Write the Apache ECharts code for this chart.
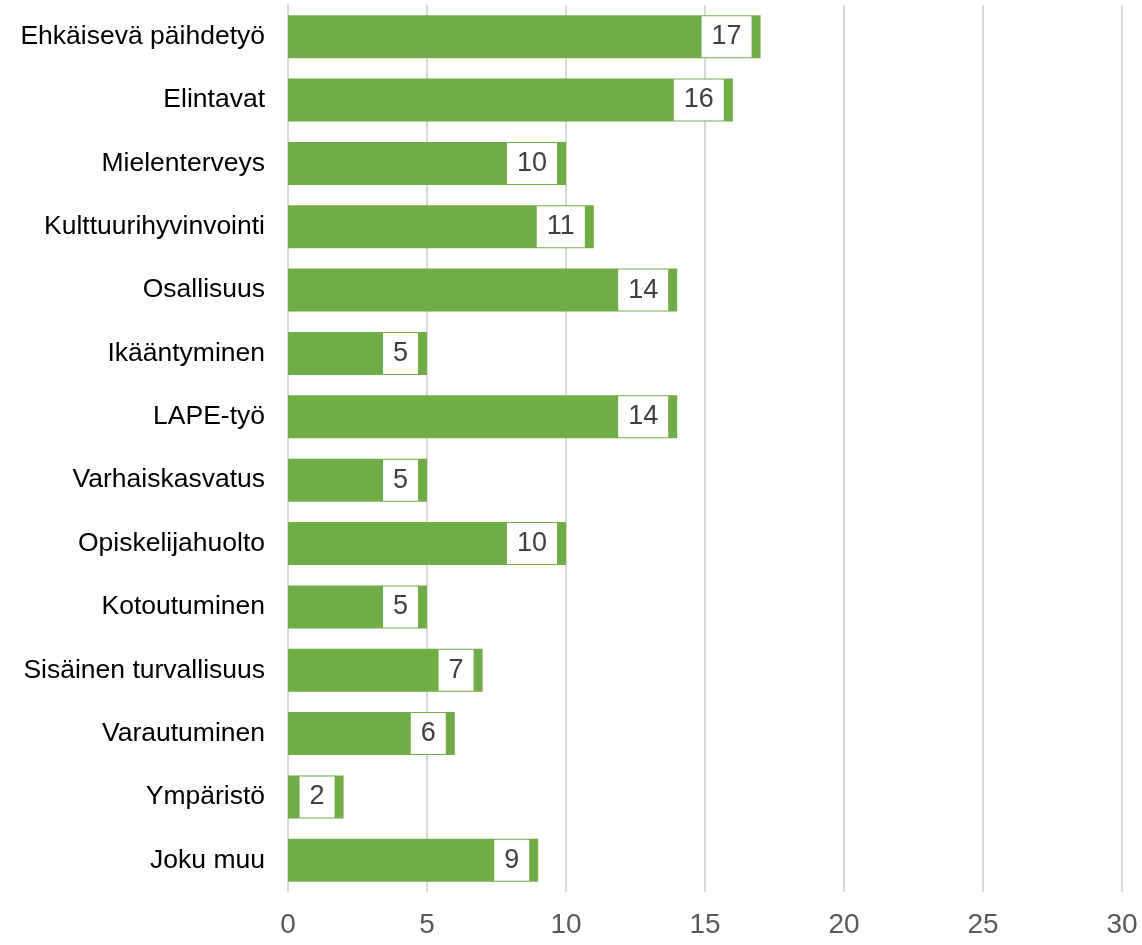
<!DOCTYPE html>
<html>
<head>
<meta charset="utf-8">
<script src="https://cdn.jsdelivr.net/npm/echarts@6/dist/echarts.min.js"></script>
<style>
  html, body { margin: 0; padding: 0; background: #fff; }
  #chart { width: 1142px; height: 945px; }
</style>
</head>
<body>
<div id="chart"></div>
<script>
var categories = [
  'Ehkäisevä päihdetyö',
  'Elintavat',
  'Mielenterveys',
  'Kulttuurihyvinvointi',
  'Osallisuus',
  'Ikääntyminen',
  'LAPE-työ',
  'Varhaiskasvatus',
  'Opiskelijahuolto',
  'Kotoutuminen',
  'Sisäinen turvallisuus',
  'Varautuminen',
  'Ympäristö',
  'Joku muu'
]
var values = [17, 16, 10, 11, 14, 5, 14, 5, 10, 5, 7, 6, 2, 9]

var chart = echarts.init(document.getElementById('chart'))

chart.setOption({
  animation: false,
  grid: { left: 288, right: 20, top: 5, height: 887 },
  xAxis: {
    type: 'value',
    min: 0,
    max: 30,
    interval: 5,
    axisLine: { show: false },
    axisTick: { show: false },
    splitLine: { lineStyle: { color: '#d9d9d9', width: 2 } },
    axisLabel: {
      fontFamily: 'Liberation Sans',
      fontSize: 28,
      color: '#595959',
      margin: 19
    }
  },
  yAxis: {
    type: 'category',
    data: categories,
    inverse: true,
    axisLine: { lineStyle: { color: '#d9d9d9', width: 2 } },
    axisTick: { show: false },
    axisLabel: {
      fontFamily: 'Liberation Sans',
      fontSize: 26.5,
      color: '#000',
      margin: 23
    }
  },
  series: [{
    type: 'bar',
    data: values,
    barWidth: 43,
    itemStyle: { color: '#70ad47' },
    label: {
      show: true,
      position: 'insideRight',
      distance: 9,
      fontFamily: 'Liberation Sans',
      fontSize: 27,
      color: '#404040',
      backgroundColor: '#fff',
      lineHeight: 41,
      padding: [0, 10]
    }
  }]
})
</script>
</body>
</html>
